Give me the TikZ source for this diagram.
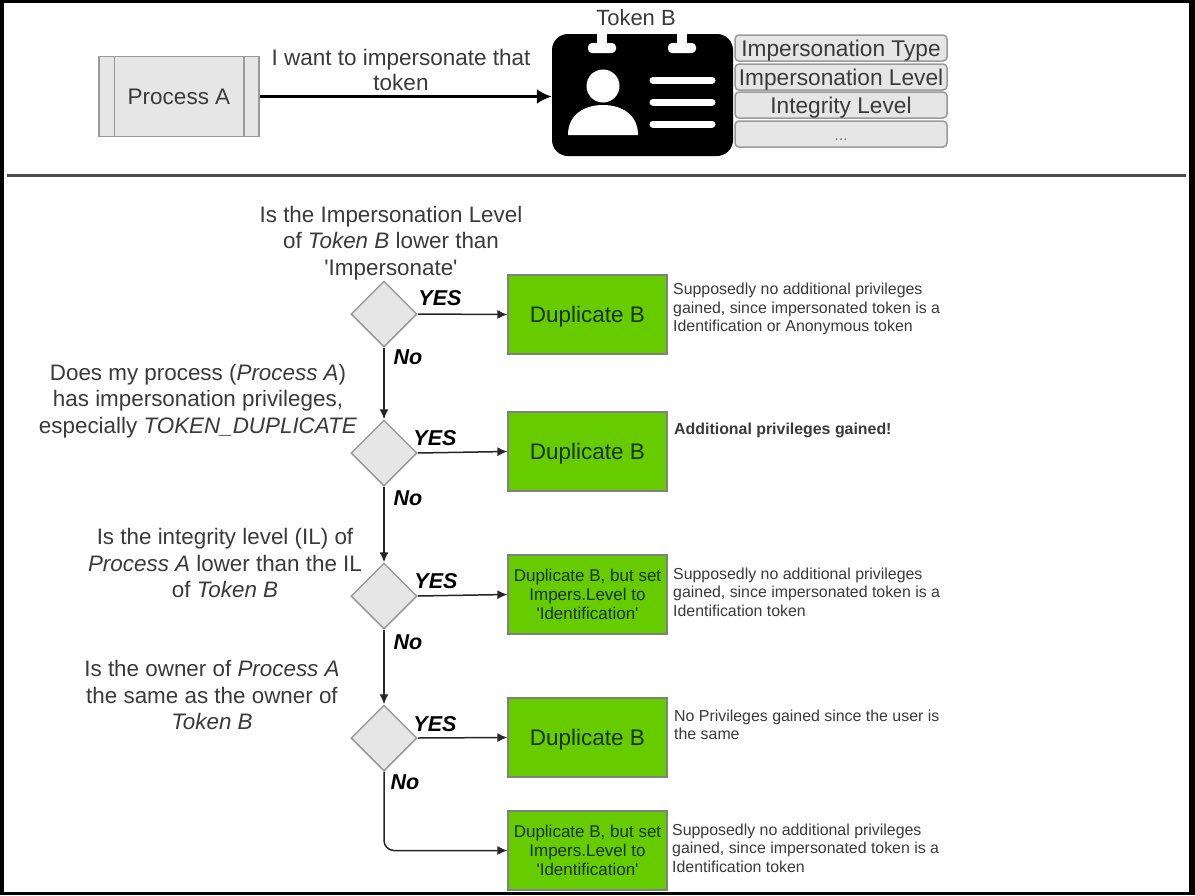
\documentclass[tikz,border=0pt]{standalone}
\usepackage{fontspec}
\setmainfont{Liberation Sans}[Ligatures=TeXOff]
\usetikzlibrary{shapes.geometric,arrows.meta}
\definecolor{boxgray}{HTML}{E6E6E6}
\definecolor{edgegray}{HTML}{9A9A9A}
\definecolor{txtgray}{HTML}{3A3A3A}
\definecolor{dupgreen}{HTML}{66CC00}
\begin{document}
\begin{tikzpicture}[
    x=1pt, y=-1pt,
    % Styles
    process/.style={
      rectangle,
      draw=edgegray,
      fill=boxgray,
      line width=1.5pt,
      minimum width=160pt,
      minimum height=80pt,
      text=txtgray,
      font=\fontsize{22.5}{26}\selectfont,
    },
    field/.style={
      rectangle,
      draw=edgegray,
      fill=boxgray,
      rounded corners=4pt,
      line width=1.5pt,
      minimum width=212pt,
      minimum height=26pt,
      inner sep=0pt,
      text height=16pt,
      text depth=0pt,
      text=txtgray,
      font=\fontsize{22.7}{26}\selectfont,
    },
    check/.style={
      diamond,
      draw=edgegray,
      fill=boxgray,
      line width=1.5pt,
      minimum width=66pt,
      minimum height=66pt,
      inner sep=0pt,
    },
    dup/.style={
      rectangle,
      draw=gray,
      fill=dupgreen,
      line width=1.2pt,
      minimum width=159pt,
      minimum height=79pt,
      inner sep=0pt,
      text=black!75!dupgreen,
      align=center,
    },
    dupbig/.style={dup, text height=16pt, text depth=0pt, font=\fontsize{22.5}{26}\selectfont},
    dupsmall/.style={dup, font=\fontsize{17}{19}\selectfont},
    question/.style={
      align=center,
      inner sep=0pt,
      text=txtgray,
      font=\fontsize{22.4}{26.5}\selectfont,
    },
    remark/.style={
      align=left,
      anchor=west,
      inner sep=0pt,
      text=txtgray,
      font=\fontsize{15.9}{18.5}\selectfont,
    },
    answer/.style={
      inner sep=0pt,
      font=\fontsize{21.5}{24}\selectfont\bfseries\itshape,
    },
    flow/.style={-{Latex[length=10pt,width=9pt]}, draw=black!85, line width=1.5pt},
  ]
  \useasboundingbox (0,0) rectangle (1195,895);
  % frame of the screenshot
  \fill[black] (0,0) rectangle (1195,895);
  \fill[white] (4,3) rectangle (1189,892);
  \draw[line width=2.5pt, draw=black!70] (7,175.5) -- (1186,175.5);

  % Top row
  \node[process] (proca) at (179,96.5) {Process A};
  \draw[draw=edgegray, line width=1.5pt] ([xshift=16pt]proca.north west) -- ([xshift=16pt]proca.south west);
  \draw[draw=edgegray, line width=1.5pt] ([xshift=-16pt]proca.north east) -- ([xshift=-16pt]proca.south east);
  \node[rectangle, fill=black, rounded corners=16pt, minimum width=181pt, minimum height=122pt, inner sep=0pt] (tokenb) at (642.5,95) {};
  \node[text=txtgray, inner sep=0pt, font=\fontsize{22}{26}\selectfont] (tokenname) at (636,18) {Token B};
  \draw[-{Latex[length=15pt,width=15pt]}, line width=3pt] (proca.east) -- (tokenb.west |- proca.east);
  \node[align=center, inner sep=0pt, text=txtgray, font=\fontsize{22.5}{25}\selectfont] (want) at (401,70) {I want to impersonate that\\token};

  % Badge drawing
  \foreach \cx in {602,682} {
    \fill[white] (\cx-5,34) rectangle (\cx+5,46);
    \fill[white, rounded corners=4pt] (\cx-14,43) rectangle (\cx+14,53);
  }
  \fill[white] (603,86) circle (16.5pt);
  \fill[white] (568,135) .. controls (568,114) and (585,105) .. (603,105) .. controls (621,105) and (638,114) .. (638,135) -- cycle;
  \foreach \ly in {80,102,124} {
    \draw[white, line width=7pt, line cap=round] (653,\ly) -- (712,\ly);
  }

  % Token fields
  \node[field] (ftype) at (841,48) {Impersonation Type};
  \node[field] (flevel) at (841,77) {Impersonation Level};
  \node[field] (fintegrity) at (841,105) {Integrity Level};
  \node[field, text height=12pt, text=gray, font=\fontsize{16}{18}\selectfont] (fdots) at (841,134) {...};

  % Decisions
  \node[check] (c1) at (384,314) {};
  \node[check] (c2) at (384,453) {};
  \node[check] (c3) at (384,596) {};
  \node[check] (c4) at (384,738) {};

  % Results
  \node[dupbig] (d1) at (587.5,314.5) {Duplicate B};
  \node[dupbig] (d2) at (587.5,451.5) {Duplicate B};
  \node[dupsmall] (d3) at (587.5,594.5) {Duplicate B, but set\\Impers.Level to\\'Identification'};
  \node[dupbig] (d4) at (587.5,737.5) {Duplicate B};
  \node[dupsmall] (d5) at (587.5,850.5) {Duplicate B, but set\\Impers.Level to\\'Identification'};

  % Questions
  \node[question] (q1) at (391,243) {Is the Impersonation Level\\of \emph{Token B} lower than\\'Impersonate'};
  \node[question] (q2) at (198,401) {Does my process (\emph{Process A})\\has impersonation privileges,\\especially \emph{TOKEN\_DUPLICATE}};
  \node[question] (q3) at (225,563) {Is the integrity level (IL) of\\\emph{Process A} lower than the IL\\of \emph{Token B}};
  \node[question] (q4) at (212,695) {Is the owner of \emph{Process A}\\the same as the owner of\\\emph{Token B}};

  % Remarks
  \node[remark] (r1) at (673,309) {Supposedly no additional privileges\\gained, since impersonated token is a\\Identification or Anonymous token};
  \node[remark, font=\fontsize{15.9}{18.5}\selectfont\bfseries] (r2) at (674,430) {Additional privileges gained!};
  \node[remark] (r3) at (673,592) {Supposedly no additional privileges\\gained, since impersonated token is a\\Identification token};
  \node[remark] (r4) at (674,725) {No Privileges gained since the user is\\the same};
  \node[remark] (r5) at (672,848) {Supposedly no additional privileges\\gained, since impersonated token is a\\Identification token};

  % Connectors
  \draw[flow] (c1.east) -- (d1.west);
  \draw[flow] (c2.east) -- (d2.west);
  \draw[flow] (c3.east) -- (d3.west);
  \draw[flow] (c4.east) -- (d4.west);
  \draw[flow] (c1.south) -- (c2.north);
  \draw[flow] (c2.south) -- (c3.north);
  \draw[flow] (c3.south) -- (c4.north);
  \draw[flow, rounded corners=10pt] (c4.south) |- (d5.west);

  % Answers
  \node[answer] (y1) at (440,298) {YES};
  \node[answer] (y2) at (435,438) {YES};
  \node[answer] (y3) at (436,581) {YES};
  \node[answer] (y4) at (435,724) {YES};
  \node[answer] (n1) at (408,357) {No};
  \node[answer] (n2) at (408,498) {No};
  \node[answer] (n3) at (408,642) {No};
  \node[answer] (n4) at (405,782) {No};
\end{tikzpicture}
\end{document}
